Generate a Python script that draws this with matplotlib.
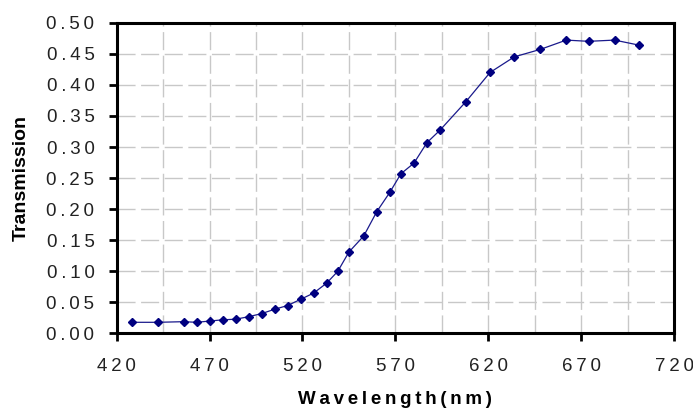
import matplotlib

matplotlib.use("Agg")
import matplotlib.pyplot as plt  # noqa: E402
from matplotlib.ticker import FixedLocator, FuncFormatter  # noqa: E402

wavelength = [428, 442, 456, 463, 470, 477, 484, 491, 498, 505, 512, 519, 526, 533,
              539, 545, 553, 560, 567, 573, 580, 587, 594, 608, 621, 634, 648, 662,
              674, 688, 701]
transmission = [0.018, 0.018, 0.019, 0.018, 0.020, 0.022, 0.023, 0.027, 0.032, 0.039,
                0.045, 0.055, 0.065, 0.081, 0.100, 0.131, 0.157, 0.196, 0.227, 0.257,
                0.274, 0.307, 0.327, 0.373, 0.420, 0.445, 0.457, 0.472, 0.470, 0.472,
                0.464]

x_ticks = [420, 470, 520, 570, 620, 670, 720]
x_grid = [445, 470, 495, 520, 545, 570, 595, 620, 645, 670, 695]
y_ticks = [0.00, 0.05, 0.10, 0.15, 0.20, 0.25, 0.30, 0.35, 0.40, 0.45, 0.50]

x_label = "Wavelength(nm)"
y_label = "Transmission"

FAMILY = ["Liberation Sans", "DejaVu Sans"]
THIN = "\u2009"


def spaced(text):
    return THIN.join(text)


fig = plt.figure(figsize=(6.93, 4.08), dpi=100)
ax = fig.add_axes([0.1684, 0.1826, 0.8042, 0.7618])

ax.set_xlim(420, 720)
ax.set_ylim(0, 0.5)

grid_style = dict(colors="#c8c8c8", linewidth=1.0, linestyles=[(0, (13, 4))], zorder=1)
ax.vlines(x_grid, 0, 0.5, **grid_style)
ax.hlines(y_ticks[1:-1], 420, 720, **grid_style)

ax.plot(wavelength, transmission, color="#1a1a8c", linewidth=0.9,
        marker="D", markersize=4.3, markerfacecolor="#000080",
        markeredgecolor="#000080", zorder=3)

ax.xaxis.set_major_locator(FixedLocator(x_ticks))
ax.yaxis.set_major_locator(FixedLocator(y_ticks))
ax.xaxis.set_major_formatter(FuncFormatter(lambda v, p: spaced(f"{v:.0f}")))
ax.yaxis.set_major_formatter(FuncFormatter(lambda v, p: spaced(f"{v:.2f}")))

for spine in ax.spines.values():
    spine.set_linewidth(2.2)
    spine.set_color("black")
    spine.set_zorder(4)

ax.tick_params(axis="both", which="major", direction="out", length=6, width=2,
               pad=10, labelsize=13.5, labelcolor="#222222")
ax.tick_params(axis="x", pad=12)
for label in ax.get_xticklabels() + ax.get_yticklabels():
    label.set_family(FAMILY)

ax.set_xlabel(spaced(x_label), family=FAMILY, fontsize=13.5, fontweight="bold",
              labelpad=11)
ax.set_ylabel(y_label, family=FAMILY, fontsize=14, fontweight="bold", labelpad=12)

fig.savefig("out.png", dpi=100)
